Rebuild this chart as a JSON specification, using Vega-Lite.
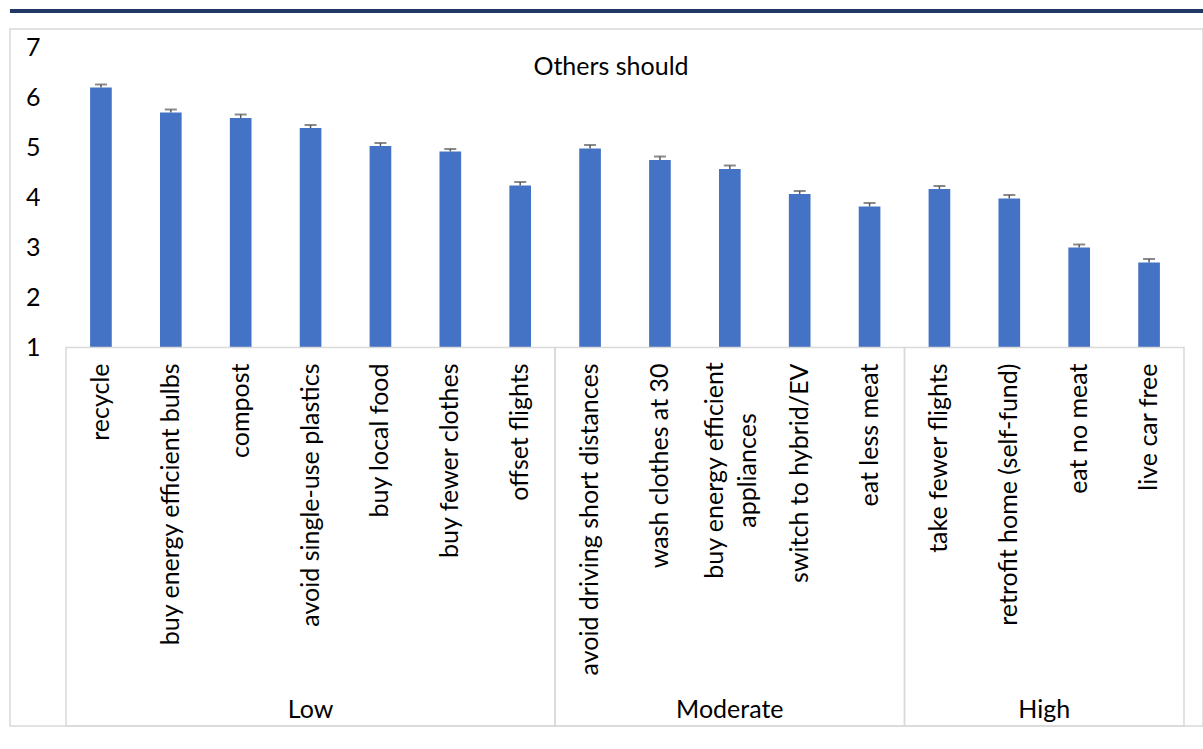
{
  "$schema": "https://vega.github.io/schema/vega-lite/v6.json",
  "autosize": {"type": "none"},
  "padding": {"left": 10, "top": 29, "right": 0, "bottom": 23},
  "width": 1193,
  "height": 697,
  "background": "white",
  "config": {"view": {"stroke": "#D9D9D9", "strokeWidth": 1.5}, "font": "Lato"},
  "datasets": {
    "items": [
      {"item": "recycle", "group": "Low", "mean": 6.20, "upper": 6.26},
      {"item": "buy energy efficient bulbs", "group": "Low", "mean": 5.70, "upper": 5.76},
      {"item": "compost", "group": "Low", "mean": 5.59, "upper": 5.66},
      {"item": "avoid single-use plastics", "group": "Low", "mean": 5.39, "upper": 5.45},
      {"item": "buy local food", "group": "Low", "mean": 5.03, "upper": 5.09},
      {"item": "buy fewer clothes", "group": "Low", "mean": 4.92, "upper": 4.97},
      {"item": "offset flights", "group": "Low", "mean": 4.24, "upper": 4.31},
      {"item": "avoid driving short distances", "group": "Moderate", "mean": 4.98, "upper": 5.05},
      {"item": "wash clothes at 30", "group": "Moderate", "mean": 4.75, "upper": 4.82},
      {"item": "buy energy efficient appliances", "group": "Moderate", "mean": 4.57, "upper": 4.64},
      {"item": "switch to hybrid/EV", "group": "Moderate", "mean": 4.07, "upper": 4.13},
      {"item": "eat less meat", "group": "Moderate", "mean": 3.82, "upper": 3.89},
      {"item": "take fewer flights", "group": "High", "mean": 4.17, "upper": 4.23},
      {"item": "retrofit home (self-fund)", "group": "High", "mean": 3.98, "upper": 4.05},
      {"item": "eat no meat", "group": "High", "mean": 3.00, "upper": 3.06},
      {"item": "live car free", "group": "High", "mean": 2.70, "upper": 2.77}
    ],
    "groups": [
      {"group": "Low", "first": "recycle", "last": "offset flights", "mid": "avoid single-use plastics"},
      {"group": "Moderate", "first": "avoid driving short distances", "last": "eat less meat", "mid": "buy energy efficient appliances"},
      {"group": "High", "first": "take fewer flights", "last": "live car free", "mid": "eat no meat"}
    ],
    "wrapped": [
      {"item": "buy energy efficient appliances", "label": "buy energy efficient\nappliances"}
    ],
    "heading": [
      {"title": "Others should"}
    ]
  },
  "layer": [
    {
      "data": {"name": "items"},
      "mark": {"type": "bar", "color": "#4472C4", "width": {"band": 0.31}},
      "encoding": {
        "x": {
          "field": "item", "type": "nominal",
          "scale": {
            "domain": ["recycle", "buy energy efficient bulbs", "compost", "avoid single-use plastics", "buy local food", "buy fewer clothes", "offset flights", "avoid driving short distances", "wash clothes at 30", "buy energy efficient appliances", "switch to hybrid/EV", "eat less meat", "take fewer flights", "retrofit home (self-fund)", "eat no meat", "live car free"],
            "paddingInner": 0, "paddingOuter": 0.5367, "align": 0.7467
          },
          "axis": {
            "orient": "bottom", "offset": -378.5, "domain": false, "ticks": false, "tickSize": 0, "grid": false, "title": null,
            "labelAngle": -90, "labelAlign": "right", "labelBaseline": "middle",
            "labelPadding": 15.5, "labelLimit": 1000, "labelOverlap": false, "labelBound": false, "labelFlush": false,
            "labelFont": "Lato", "labelFontSize": 25, "labelColor": "#000000",
            "labelExpr": "datum.value === 'buy energy efficient appliances' ? '' : datum.label"
          }
        },
        "y": {
          "field": "mean", "type": "quantitative",
          "scale": {"domain": [-6.57, 7.37], "nice": false, "zero": false},
          "axis": {"values": [1, 2, 3, 4, 5, 6, 7], "domain": false, "ticks": false, "tickSize": 0, "grid": false, "title": null, "labelPadding": 0, "offset": -30, "labelFont": "Lato", "labelFontSize": 25, "labelColor": "#000000", "labelBaseline": "middle"}
        },
        "y2": {"datum": 1}
      }
    },
    {
      "data": {"name": "items"},
      "mark": {"type": "rule", "color": "#595959", "strokeWidth": 1.5},
      "encoding": {
        "x": {"field": "item", "type": "nominal"},
        "y": {"field": "mean", "type": "quantitative"},
        "y2": {"field": "upper"}
      }
    },
    {
      "data": {"name": "items"},
      "mark": {"type": "tick", "color": "#595959", "thickness": 2, "size": 12, "orient": "horizontal"},
      "encoding": {
        "x": {"field": "item", "type": "nominal"},
        "y": {"field": "upper", "type": "quantitative"}
      }
    },
    {
      "data": {"name": "wrapped"},
      "mark": {"type": "text", "font": "Lato", "fontSize": 25, "color": "#000000", "angle": 270, "align": "center", "baseline": "middle", "lineBreak": "\n", "lineHeight": 33},
      "encoding": {
        "x": {"field": "item", "type": "nominal", "bandPosition": 0.29},
        "y": {"datum": -1.46},
        "text": {"field": "label"}
      }
    },
    {
      "data": {"name": "groups"},
      "mark": {"type": "rect", "filled": false, "color": "#D9D9D9", "strokeWidth": 1.5},
      "encoding": {
        "x": {"field": "first", "type": "nominal", "bandPosition": 0},
        "x2": {"field": "last", "bandPosition": 1},
        "y": {"datum": 1},
        "y2": {"datum": -6.57}
      }
    },
    {
      "data": {"name": "groups"},
      "transform": [{"filter": "datum.group !== 'High'"}],
      "mark": {"type": "text", "font": "Lato", "fontSize": 25, "color": "#000000", "baseline": "alphabetic", "align": "center"},
      "encoding": {
        "x": {"field": "mid", "type": "nominal"},
        "y": {"datum": -6.4},
        "text": {"field": "group"}
      }
    },
    {
      "data": {"name": "groups"},
      "transform": [{"filter": "datum.group === 'High'"}],
      "mark": {"type": "text", "font": "Lato", "fontSize": 25, "color": "#000000", "baseline": "alphabetic", "align": "center"},
      "encoding": {
        "x": {"field": "mid", "type": "nominal", "bandPosition": 0},
        "y": {"datum": -6.4},
        "text": {"field": "group"}
      }
    },
    {
      "data": {"name": "heading"},
      "mark": {"type": "text", "font": "Lato", "fontSize": 25, "color": "#000000", "baseline": "alphabetic", "align": "center", "dx": 4.5},
      "encoding": {
        "y": {"datum": 6.45},
        "text": {"field": "title"}
      }
    },
    {
      "data": {"values": [{}]},
      "mark": {"type": "rule", "color": "#1F3864", "strokeWidth": 4, "clip": false},
      "encoding": {"y": {"datum": 7.73}}
    }
  ]
}
